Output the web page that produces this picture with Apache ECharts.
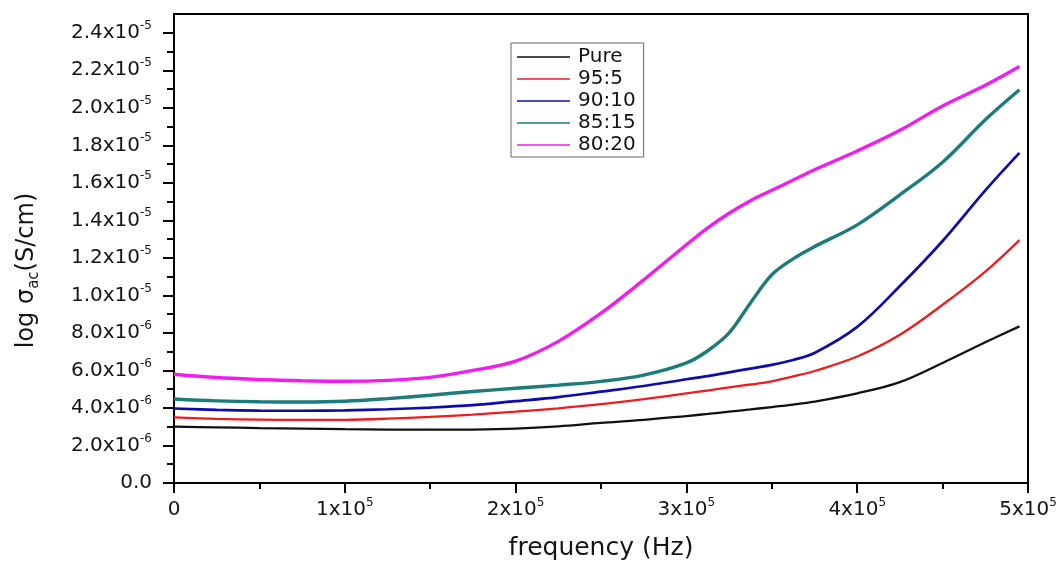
<!DOCTYPE html>
<html>
<head>
<meta charset="utf-8">
<script src="https://cdn.jsdelivr.net/npm/echarts@6/dist/echarts.min.js"></script>
<style>
  html, body { margin: 0; padding: 0; background: #fff; }
  #chart { width: 1060px; height: 561px; }
</style>
</head>
<body>
<div id="chart"></div>
<script>
// Frequency points (Hz)
const frequency = [0, 25000, 50000, 75000, 100000, 125000, 150000, 175000, 200000,
  225000, 250000, 275000, 300000, 312500, 325000, 337500, 350000, 362500, 375000,
  400000, 425000, 450000, 475000, 495000];

// AC conductivity per composition, in units of 1e-6 S/cm
const pure  = [3.0, 2.97, 2.93, 2.9, 2.87, 2.85, 2.84, 2.85, 2.9, 3.02, 3.2, 3.36, 3.57,
  3.68, 3.8, 3.92, 4.05, 4.18, 4.34, 4.78, 5.38, 6.4, 7.5, 8.35];
const r95_5 = [3.5, 3.42, 3.38, 3.36, 3.37, 3.43, 3.52, 3.65, 3.8, 3.98, 4.2, 4.47, 4.78,
  4.93, 5.1, 5.25, 5.42, 5.68, 5.97, 6.74, 7.9, 9.5, 11.27, 12.95];
const r90_10 = [3.97, 3.9, 3.86, 3.85, 3.87, 3.93, 4.02, 4.15, 4.36, 4.58, 4.87, 5.17, 5.53,
  5.7, 5.9, 6.1, 6.3, 6.56, 6.93, 8.32, 10.5, 12.9, 15.6, 17.6];
const r85_15 = [4.48, 4.38, 4.33, 4.32, 4.36, 4.5, 4.68, 4.88, 5.05, 5.22, 5.42, 5.75, 6.4,
  7.05, 8.0, 9.6, 11.1, 11.95, 12.6, 13.76, 15.36, 17.1, 19.36, 20.96];
const r80_20 = [5.8, 5.62, 5.52, 5.45, 5.42, 5.47, 5.63, 6.0, 6.5, 7.55, 9.05, 10.83, 12.7,
  13.6, 14.38, 15.05, 15.6, 16.15, 16.7, 17.7, 18.8, 20.1, 21.2, 22.2];
const UNIT = 1e-6;

const seriesNames  = ['Pure', '95:5', '90:10', '85:15', '80:20'];
const seriesValues = [pure, r95_5, r90_10, r85_15, r80_20];
const seriesColors = ['#111111', '#ee1c1c', '#0c0cae', '#1c7c78', '#f21cf0'];
const seriesWidths = [2.3, 2.3, 2.7, 3.4, 3.4];

// Axis ticks and labels ("^" marks the exponent)
const yTickValues = [0, 2e-6, 4e-6, 6e-6, 8e-6, 1.0e-5, 1.2e-5, 1.4e-5, 1.6e-5, 1.8e-5, 2.0e-5, 2.2e-5, 2.4e-5];
const yTickLabels = ['0.0', '2.0x10^-6', '4.0x10^-6', '6.0x10^-6', '8.0x10^-6', '1.0x10^-5', '1.2x10^-5',
  '1.4x10^-5', '1.6x10^-5', '1.8x10^-5', '2.0x10^-5', '2.2x10^-5', '2.4x10^-5'];
const yMinorValues = [1e-6, 3e-6, 5e-6, 7e-6, 9e-6, 1.1e-5, 1.3e-5, 1.5e-5, 1.7e-5, 1.9e-5, 2.1e-5, 2.3e-5];
const xTickValues = [0, 100000, 200000, 300000, 400000, 500000];
const xTickLabels = ['0', '1x10^5', '2x10^5', '3x10^5', '4x10^5', '5x10^5'];

const FONT = 'DejaVu Sans';
const TEXT = '#151515';

function toRich(label) {
  return label.replace(/\^(.+)$/, '{sup|$1}');
}
function lookup(values, labels, v) {
  for (let i = 0; i < values.length; i++) {
    if (Math.abs(values[i] - v) <= Math.abs(values[i]) * 1e-6 + 1e-12) return toRich(labels[i]);
  }
  return '';
}

const supStyle = { fontSize: 12, fontFamily: FONT, color: TEXT, verticalAlign: 'top', lineHeight: 12 };

const chart = echarts.init(document.getElementById('chart'), null, { renderer: 'canvas' });

chart.setOption({
  animation: false,
  backgroundColor: '#fff',
  grid: {
    left: 174, right: 32, top: 14, bottom: 78,
    outerBoundsMode: 'none',
    containLabel: false,
    show: true, borderColor: '#000', borderWidth: 2
  },
  legend: {
    orient: 'vertical',
    left: 511, top: 43,
    icon: 'rect',
    itemWidth: 53, itemHeight: 1.5,
    itemGap: 0,
    padding: [3, 8, 1, 6],
    borderColor: '#666', borderWidth: 1,
    textStyle: { fontFamily: FONT, fontSize: 20, lineHeight: 22, color: TEXT, padding: [0, 0, 0, 3] },
    data: seriesNames
  },
  xAxis: {
    type: 'value',
    min: 0, max: 500000, interval: 100000,
    name: 'frequency (Hz)',
    nameLocation: 'middle',
    nameGap: 53,
    nameTextStyle: { fontFamily: FONT, fontSize: 25, color: TEXT },
    axisLine: { show: true, onZero: false, lineStyle: { color: '#000', width: 2 } },
    axisTick: { show: true, inside: false, length: 10, lineStyle: { color: '#000', width: 2 } },
    minorTick: { show: true, splitNumber: 2, length: 6, lineStyle: { color: '#000', width: 2 } },
    splitLine: { show: false },
    minorSplitLine: { show: false },
    axisLabel: {
      margin: 14,
      fontFamily: FONT, fontSize: 20, color: TEXT, lineHeight: 26,
      formatter: v => lookup(xTickValues, xTickLabels, v),
      rich: { sup: supStyle }
    }
  },
  yAxis: [
    {
      type: 'value',
      min: 0, max: 2.5e-5,
      name: 'log σ{sub|ac}(S/cm)',
      nameLocation: 'middle',
      nameRotate: 90,
      nameGap: 132,
      nameTextStyle: {
        fontFamily: FONT, fontSize: 24, color: TEXT, lineHeight: 30,
        padding: [0, 44, 0, 0],
        rich: { sub: { fontFamily: FONT, fontSize: 15, color: TEXT, verticalAlign: 'bottom', lineHeight: 16 } }
      },
      axisLine: { show: true, onZero: false, lineStyle: { color: '#000', width: 2 } },
      axisTick: { show: true, inside: false, length: 11, customValues: yTickValues, lineStyle: { color: '#000', width: 2 } },
      splitLine: { show: false },
      axisLabel: {
        margin: 22,
        customValues: yTickValues,
        fontFamily: FONT, fontSize: 20, color: TEXT, lineHeight: 26,
        formatter: v => lookup(yTickValues, yTickLabels, v),
        rich: { sup: supStyle }
      }
    },
    {
      // minor ticks on the left axis
      type: 'value',
      min: 0, max: 2.5e-5,
      position: 'left',
      axisLine: { show: false },
      axisTick: { show: true, inside: false, length: 7, customValues: yMinorValues, lineStyle: { color: '#000', width: 2 } },
      axisLabel: { show: false },
      splitLine: { show: false }
    }
  ],
  series: seriesNames.map((name, i) => ({
    name: name,
    type: 'line',
    yAxisIndex: 0,
    data: frequency.map((f, j) => [f, seriesValues[i][j] * UNIT]),
    smooth: 0.35,
    showSymbol: false,
    symbol: 'none',
    color: seriesColors[i],
    lineStyle: { color: seriesColors[i], width: seriesWidths[i] },
    z: 2 + i
  }))
});
</script>
</body>
</html>
